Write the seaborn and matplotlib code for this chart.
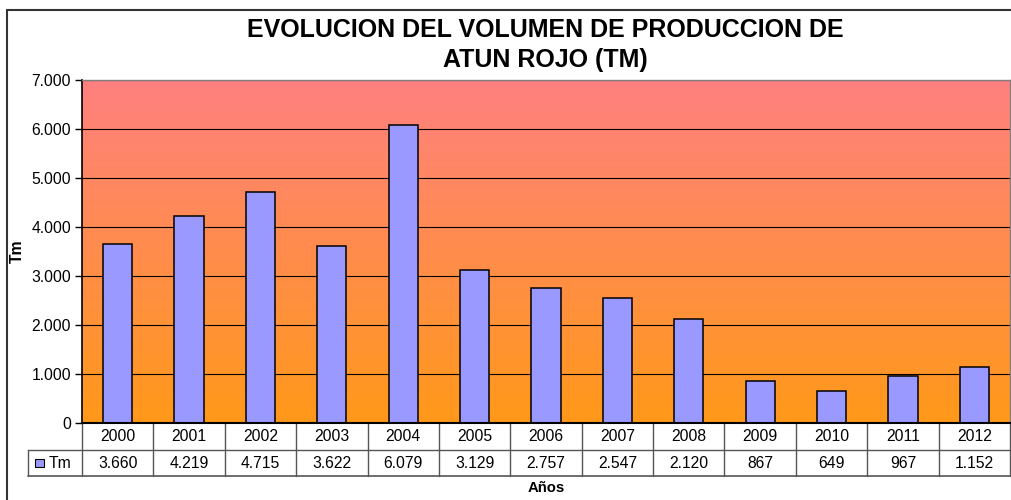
import numpy as np
import pandas as pd
import matplotlib
matplotlib.use("Agg")
import matplotlib.pyplot as plt
import matplotlib.patches as mpatches
from matplotlib.colors import LinearSegmentedColormap
from matplotlib.ticker import FuncFormatter
import seaborn as sns

# Data
years = ["2000", "2001", "2002", "2003", "2004", "2005", "2006",
         "2007", "2008", "2009", "2010", "2011", "2012"]
tm_values = [3660, 4219, 4715, 3622, 6079, 3129, 2757, 2547, 2120, 867, 649, 967, 1152]
series_name = "Tm"


def fmt_es(v):
    # thousands separator with a dot
    return f"{int(v):,}".replace(",", ".")


sns.set_theme(style="white")
plt.rcParams["font.family"] = ["Liberation Sans", "DejaVu Sans"]
plt.rcParams["text.color"] = "black"
plt.rcParams["axes.labelcolor"] = "black"
plt.rcParams["ytick.color"] = "black"

fs = 11.3

fig = plt.figure(figsize=(10.12, 5.0), dpi=100)
W, H = 1012, 500

# outer chart frame (clipped at right/bottom like the original)
frame = mpatches.Rectangle((7 / W, -0.1), 1.2, (500 - 10) / H + 0.1,
                           transform=fig.transFigure, fill=False,
                           edgecolor="#333333", lw=1.5)
fig.patches.append(frame)

# plot area
ax = fig.add_axes([82 / W, (500 - 423) / H, (1010 - 82) / W, (423 - 80) / H])

# gradient background
grad = LinearSegmentedColormap.from_list("bg", ["#FF9919", "#FF8080"])
ax.imshow(np.linspace(0, 1, 256).reshape(-1, 1), cmap=grad, origin="lower",
          extent=[0, 1, 0, 1], transform=ax.transAxes, aspect="auto", zorder=0)

df = pd.DataFrame({"year": years, "tm": tm_values})
sns.barplot(data=df, x="year", y="tm", ax=ax, color="#9999FF", saturation=1,
            width=0.41, edgecolor="black", linewidth=1.1, zorder=3)

ax.set_xlim(-0.5, len(years) - 0.5)
ax.set_ylim(0, 7000)
ax.set_yticks(range(0, 7001, 1000))
ax.yaxis.set_major_formatter(FuncFormatter(lambda v, p: fmt_es(v)))
ax.grid(axis="y", color="black", lw=0.8, zorder=1)
ax.set_axisbelow(False)
for ln in ax.get_ygridlines():
    ln.set_zorder(1)
ax.tick_params(axis="y", left=True, length=5, width=1, color="black",
               labelsize=fs, pad=3, labelcolor="black")
ax.set_xticks([])
ax.set_xlabel("")
ax.set_ylabel("Tm", fontsize=fs, fontweight="bold")
ax.yaxis.set_label_coords((25 - 82) / 928, 0.5)

for side in ["top", "right"]:
    ax.spines[side].set_color("#808080")
    ax.spines[side].set_linewidth(1)
ax.spines["left"].set_color("black")
ax.spines["left"].set_linewidth(1.2)
ax.spines["bottom"].set_color("black")
ax.spines["bottom"].set_linewidth(1.5)
for s in ax.spines.values():
    s.set_zorder(5)

# data table below the axis
tr = ax.get_xaxis_transform()
ph = 423 - 80
y0, y1, y2 = 0, -27 / ph, -53 / ph
lx = -0.5 - (82 - 28) / ((1010 - 82) / len(years))
lc = "#555555"
ax.plot([-0.5, 12.5], [y1, y1], color=lc, lw=1, transform=tr, clip_on=False)
ax.plot([lx, 12.5], [y2, y2], color=lc, lw=1.2, transform=tr, clip_on=False)
ax.plot([lx, -0.5], [y1, y1], color=lc, lw=1, transform=tr, clip_on=False)
ax.plot([lx, lx], [y1, y2], color=lc, lw=1, transform=tr, clip_on=False)
for i in range(len(years) + 1):
    ax.plot([i - 0.5, i - 0.5], [y0, y2], color=lc, lw=1, transform=tr, clip_on=False)
for i, (yr, v) in enumerate(zip(years, tm_values)):
    ax.text(i, (y0 + y1) / 2, yr, transform=tr, ha="center", va="center", fontsize=fs)
    ax.text(i, (y1 + y2) / 2, fmt_es(v), transform=tr, ha="center", va="center", fontsize=fs)

# legend key inside the row label cell
key_w = 0.12
ax.add_patch(mpatches.Rectangle((lx + 0.1, (y1 + y2) / 2 - 0.012), key_w, 0.024,
                                transform=tr, facecolor="#9999FF", edgecolor="black",
                                lw=0.8, clip_on=False))
ax.text(lx + 0.29, (y1 + y2) / 2, series_name, transform=tr, ha="left", va="center",
        fontsize=fs)

ax.text(0.5, -0.19, "Años", transform=ax.transAxes, ha="center", va="center",
        fontsize=fs * 0.95, fontweight="bold")

fig.text(545 / W, 1 - 45 / H, "EVOLUCION DEL VOLUMEN DE PRODUCCION DE\nATUN ROJO (TM)",
         ha="center", va="center", fontsize=18, fontweight="bold", linespacing=1.3)

fig.savefig("out.png", dpi=100)
